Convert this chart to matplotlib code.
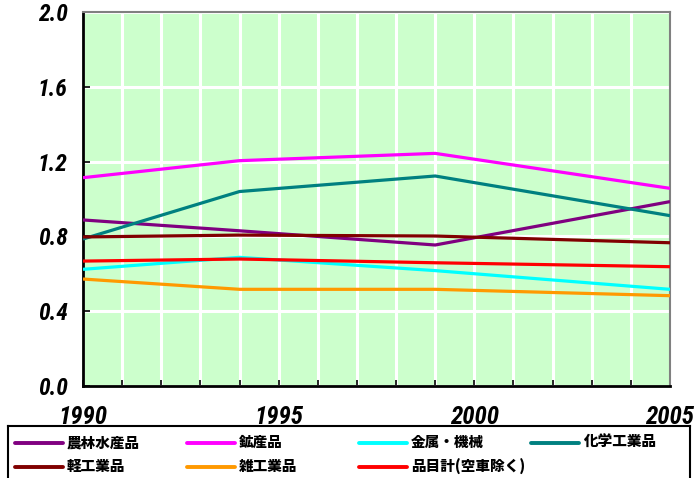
import matplotlib
matplotlib.use("Agg")
import matplotlib.pyplot as plt

# index series (1990 = base year), read per category
years = [1990, 1994, 1999, 2005]
names = ["農林水産品", "鉱産品", "金属・機械", "化学工業品",
         "軽工業品", "雑工業品", "品目計(空車除く)"]
agri = [0.888, 0.830, 0.754, 0.986]
mining = [1.114, 1.205, 1.244, 1.057]
metal = [0.624, 0.688, 0.617, 0.517]
chem = [0.786, 1.040, 1.123, 0.911]
light = [0.797, 0.807, 0.802, 0.766]
misc = [0.572, 0.517, 0.517, 0.483]
total = [0.668, 0.679, 0.659, 0.638]
series = [agri, mining, metal, chem, light, misc, total]
colors = ["#800080", "#FF00FF", "#00FFFF", "#008080",
          "#800000", "#FF9900", "#FF0000"]

NUM_FONT = ["Liberation Sans Narrow", "Roboto Condensed", "DejaVu Sans"]
JP_FONT = ["Noto Sans CJK JP", "DejaVu Sans"]

W, H = 697, 478
fig = plt.figure(figsize=(W / 100, H / 100), dpi=100)
ax = fig.add_axes([83 / W, 1 - 386 / H, (670 - 83) / W, (386 - 12) / H])
ax.set_facecolor("#CCFFCC")

for vals, c in zip(series, colors):
    ax.plot(years, vals, color=c, lw=2.3, solid_capstyle="butt", zorder=3)

ax.set_xlim(1990, 2005)
ax.set_ylim(0, 2.0)
ax.set_xticks([1990, 1995, 2000, 2005])
ax.set_xticks(range(1990, 2006), minor=True)
ax.set_yticks([0.0, 0.4, 0.8, 1.2, 1.6, 2.0])
ax.set_yticklabels(["0.0", "0.4", "0.8", "1.2", "1.6", "2.0"])
ax.grid(True, which="both", axis="x", color="white", lw=2.2, zorder=1)
ax.grid(True, which="major", axis="y", color="white", lw=2.2, zorder=1)
ax.set_axisbelow(True)

ax.tick_params(axis="both", which="both", direction="in", color="black")
ax.tick_params(axis="x", which="major", length=4, width=1.2, pad=14)
ax.tick_params(axis="x", which="minor", length=4, width=1.2)
ax.tick_params(axis="y", which="major", length=5, width=1.2, pad=11)
for lab in ax.get_xticklabels() + ax.get_yticklabels():
    lab.set_fontfamily(NUM_FONT)
    lab.set_fontweight("bold")
    lab.set_fontstyle("italic")
    lab.set_fontstretch("condensed")
for lab in ax.get_xticklabels():
    lab.set_fontsize(18)
for lab in ax.get_yticklabels():
    lab.set_fontsize(17)

for side in ("left", "bottom"):
    ax.spines[side].set_color("black")
    ax.spines[side].set_linewidth(2)
for side in ("top", "right"):
    ax.spines[side].set_color("#808080")
    ax.spines[side].set_linewidth(1.5)

# legend drawn in its own box, in pixel units, four even columns
lg = fig.add_axes([8 / W, -10 / H, (690 - 8) / W, (H - 426 + 10) / H])
lg.set_xlim(0, 690 - 8)
lg.set_ylim(H - 426 + 10, 0)
lg.set_xticks([])
lg.set_yticks([])
for side in lg.spines.values():
    side.set_color("black")
    side.set_linewidth(1.5)
for i, (name, c) in enumerate(zip(names, colors)):
    col, row = i % 4, i // 4
    x0 = 7 + 172 * col
    y0 = 16.5 + 24 * row
    lg.plot([x0, x0 + 48], [y0, y0], color=c, lw=2.8, solid_capstyle="round")
    lg.text(x0 + 52, y0, name, family=JP_FONT, fontweight="heavy",
            fontsize=10.5, va="center", ha="left")

fig.savefig("out.png", dpi=100)
